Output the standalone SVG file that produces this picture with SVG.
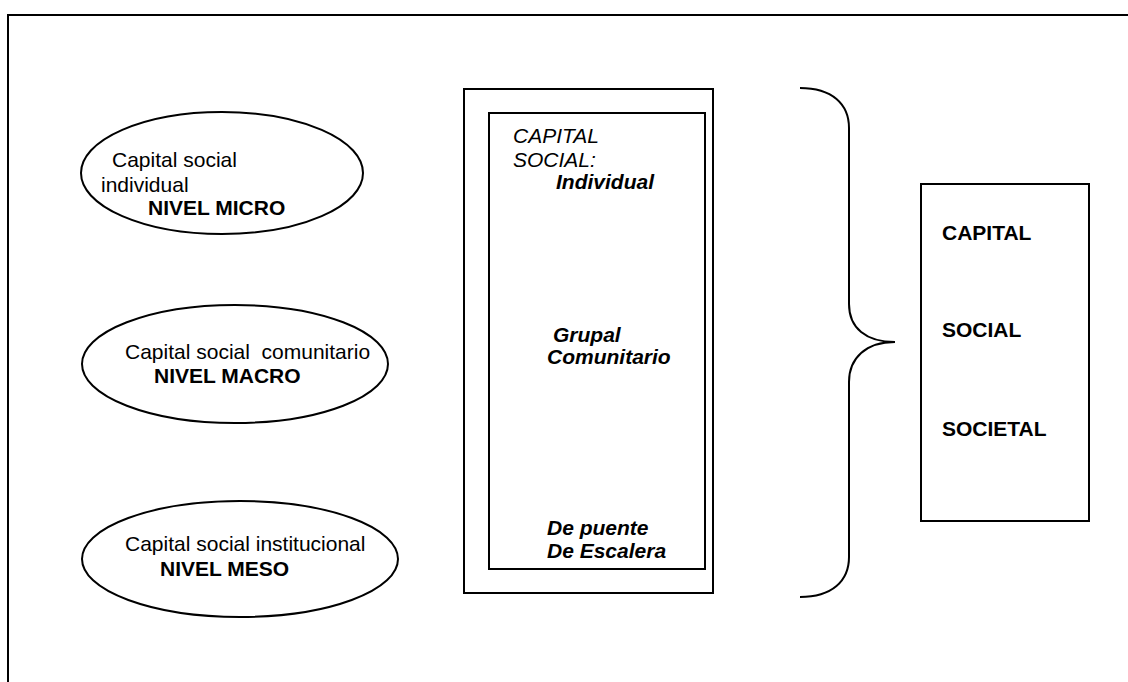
<svg xmlns="http://www.w3.org/2000/svg" width="1128" height="682" viewBox="0 0 1128 682">
  <style>
    .line { fill: none; stroke: #000; stroke-width: 2; }
    .shape { fill: #fff; stroke: #000; stroke-width: 2; }
    text { font-family: "Liberation Sans", Arial, sans-serif; font-size: 21px; fill: #000; }
    .b { font-weight: bold; }
    .i { font-style: italic; }
    .bi { font-weight: bold; font-style: italic; }
  </style>
  <rect width="1128" height="682" fill="#fff"/>
  <!-- page frame, running off the right and bottom edges -->
  <rect x="8" y="15" width="1200" height="800" class="line"/>

  <!-- levels -->
  <g id="micro">
    <ellipse cx="222" cy="173" rx="141" ry="61" class="shape"/>
    <text x="112" y="167">Capital social</text>
    <text x="101" y="192">individual</text>
    <text x="148" y="215" class="b">NIVEL MICRO</text>
  </g>
  <g id="macro">
    <ellipse cx="235" cy="364" rx="153" ry="59" class="shape"/>
    <text x="125" y="359" xml:space="preserve">Capital social  comunitario</text>
    <text x="154" y="383" class="b">NIVEL MACRO</text>
  </g>
  <g id="meso">
    <ellipse cx="240" cy="559" rx="158" ry="58" class="shape"/>
    <text x="125" y="551">Capital social institucional</text>
    <text x="160" y="576" class="b">NIVEL MESO</text>
  </g>

  <!-- types of social capital -->
  <g id="tipos">
    <rect x="464" y="89" width="249" height="504" class="shape"/>
    <rect x="489" y="113" width="216" height="456" class="shape"/>
    <text x="513" y="143" class="i">CAPITAL</text>
    <text x="513" y="167" class="i">SOCIAL:</text>
    <text x="556" y="189" class="bi">Individual</text>
    <text x="553" y="342" class="bi">Grupal</text>
    <text x="547" y="364" class="bi">Comunitario</text>
    <text x="547" y="535" class="bi">De puente</text>
    <text x="547" y="558" class="bi">De Escalera</text>
  </g>

  <!-- grouping brace -->
  <g id="connectors">
    <path class="line" d="M800,88 C832,88 849,104 849,128 L849,304 C849,328 866,342 895,342 C866,342 849,358 849,382 L849,557 C849,581 832,597 800,597"/>
  </g>

  <!-- result -->
  <g id="capital-social-societal">
    <rect x="921" y="184" width="168" height="337" class="shape"/>
    <text x="942" y="240" class="b">CAPITAL</text>
    <text x="942" y="337" class="b">SOCIAL</text>
    <text x="942" y="436" class="b">SOCIETAL</text>
  </g>
</svg>
